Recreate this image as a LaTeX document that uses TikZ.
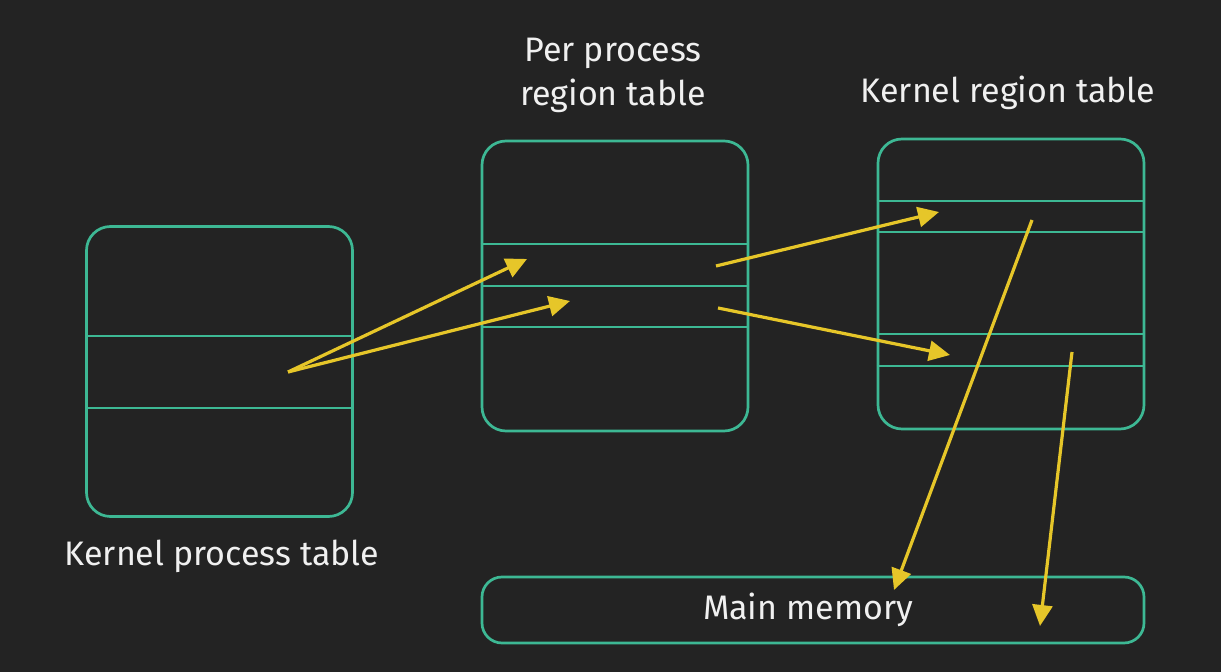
\documentclass[tikz,border=0pt]{standalone}
\usepackage{fontspec}
\setmainfont{Fira Sans}
\usetikzlibrary{arrows.meta}
\definecolor{bgdark}{HTML}{232323}
\definecolor{tealline}{HTML}{3DB894}
\definecolor{arrowyellow}{HTML}{E6C629}
\definecolor{labelwhite}{HTML}{F0F0F0}
\tikzset{
    tablebox/.style={draw=tealline,line width=1.35pt,rounded corners=12pt,
        minimum width=133pt,minimum height=145pt,inner sep=0pt},
    rowline/.style={draw=tealline,line width=1.35pt},
    pointer/.style={draw=arrowyellow,line width=1.6pt,
        -{Triangle[length=10.5pt,width=10pt,fill=arrowyellow]}},
    caption/.style={text=labelwhite,font=\fontsize{17}{22}\selectfont,align=center}
}
\begin{document}
\begin{tikzpicture}[x=0.5pt,y=-0.5pt]
        \fill[bgdark] (0,0) rectangle (1221,672);
        \useasboundingbox (0,0) rectangle (1221,672);
        %% tables
        \node[tablebox] (kpt) at (219.5,371.5) {};
        \node[tablebox] (ppt) at (615,286) {};
        \node[tablebox] (krt) at (1011,284) {};
        \node[tablebox,minimum width=331pt,minimum height=33pt,rounded corners=10pt] (mem) at (813,610) {};
        %% rows
        \foreach \y in {336,408} {
            \draw[rowline] (kpt.west |- 0,\y) -- (kpt.east |- 0,\y);
        }
        \foreach \y in {244,286,327} {
            \draw[rowline] (ppt.west |- 0,\y) -- (ppt.east |- 0,\y);
        }
        \foreach \y in {201,232,334,366} {
            \draw[rowline] (krt.west |- 0,\y) -- (krt.east |- 0,\y);
        }
        %% labels
        \node[caption] (kptlabel) at (222,556) {Kernel process table};
        \node[caption] (pptlabel) at (613,75) {Per process\\region table};
        \node[caption] (krtlabel) at (1008,93) {Kernel region table};
        \node[caption] (memlabel) at (808,610) {Main memory};
        %% pointer ends
        \coordinate (kptentry) at (288,372);
        \coordinate (pptfirst) at (527,259);
        \coordinate (pptsecond) at (570,301);
        \coordinate (pptfirstout) at (716,266);
        \coordinate (pptsecondout) at (718,308);
        \coordinate (krtfirst) at (939,212);
        \coordinate (krtsecond) at (950,355);
        \coordinate (krtfirstout) at (1032,220);
        \coordinate (krtsecondout) at (1072,352);
        \coordinate (memfirst) at (894,590);
        \coordinate (memsecond) at (1040,626);
        %% pointers
        \foreach \a/\b in {kptentry/pptfirst,kptentry/pptsecond,pptfirstout/krtfirst,
            pptsecondout/krtsecond,krtfirstout/memfirst,krtsecondout/memsecond} {
            \draw[pointer] (\a) -- (\b);
        }
    \end{tikzpicture}
\end{document}
